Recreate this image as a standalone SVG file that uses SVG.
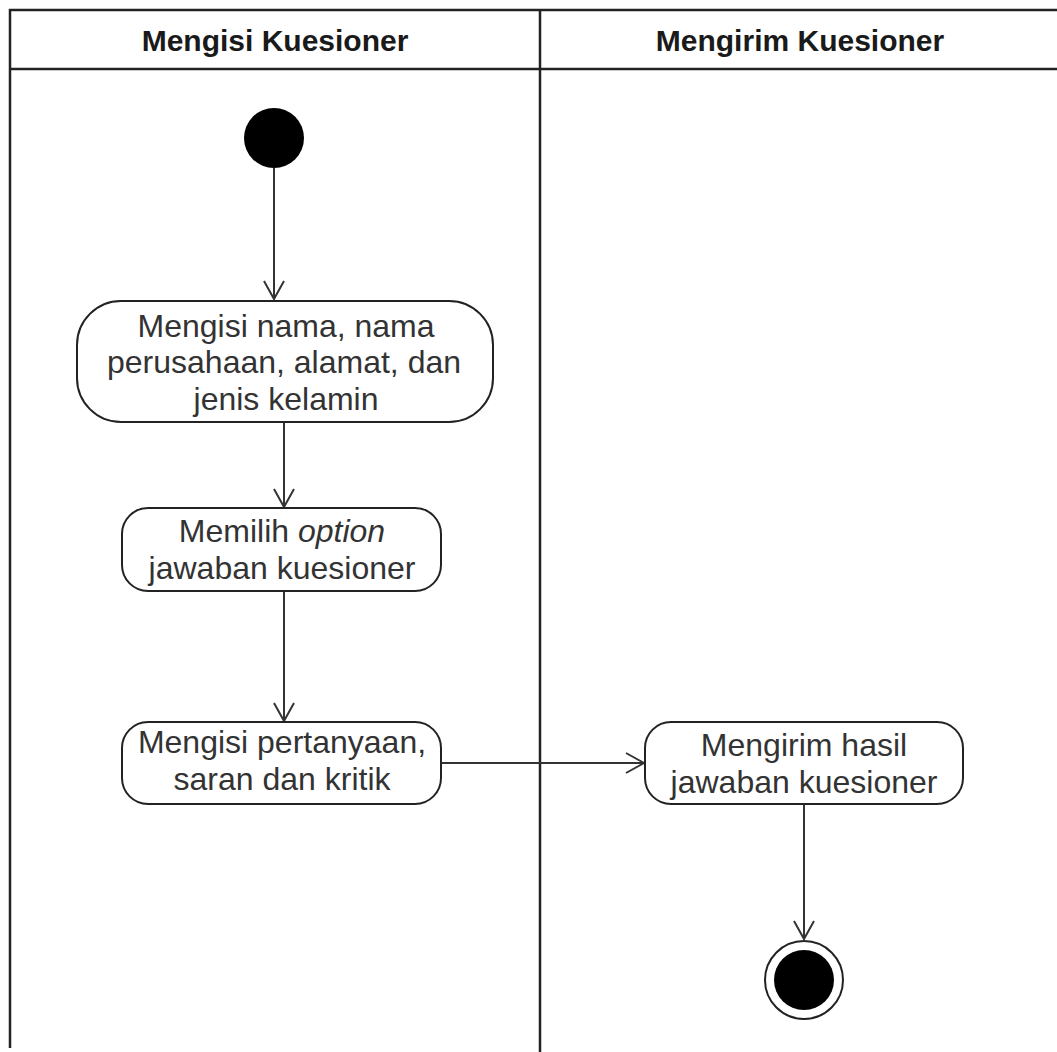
<svg xmlns="http://www.w3.org/2000/svg" width="1057" height="1052" viewBox="0 0 1057 1052">
  <style>
    .lane { fill: none; stroke: #222; stroke-width: 2.5; }
    .node { fill: #fff; stroke: #222; stroke-width: 2; }
    .head { font-family: "Liberation Sans", Arial, sans-serif; font-size: 30px; font-weight: bold; fill: #1a1a1a; text-anchor: middle; }
    .label { font-family: "Liberation Sans", Arial, sans-serif; font-size: 32px; fill: #333; text-anchor: middle; }
    .edge { fill: none; stroke: #333; stroke-width: 2; }
    .tip { fill: none; stroke: #333; stroke-width: 2; }
  </style>
  <defs>
    <marker id="open" viewBox="0 0 24 24" refX="22" refY="12" markerWidth="24" markerHeight="24" markerUnits="userSpaceOnUse" orient="auto">
      <path d="M 4 2 L 22 12 L 4 22" class="tip"/>
    </marker>
  </defs>
  <rect width="1057" height="1052" fill="#fff"/>

  <!-- swimlanes -->
  <g id="lanes">
    <path class="lane" d="M 1057 10 L 10 10 L 10 1048"/>
    <line class="lane" x1="10" y1="69" x2="1057" y2="69"/>
    <line class="lane" x1="540" y1="10" x2="540" y2="1052"/>
    <text class="head" x="275" y="51">Mengisi Kuesioner</text>
    <text class="head" x="800" y="51">Mengirim Kuesioner</text>
  </g>

  <!-- connectors -->
  <g id="connectors">
    <line class="edge" x1="274" y1="168" x2="274" y2="299" marker-end="url(#open)"/>
    <line class="edge" x1="284" y1="422" x2="284" y2="507" marker-end="url(#open)"/>
    <line class="edge" x1="284" y1="591" x2="284" y2="721" marker-end="url(#open)"/>
    <line class="edge" x1="441" y1="763" x2="644" y2="763" marker-end="url(#open)"/>
    <line class="edge" x1="804" y1="804" x2="804" y2="939" marker-end="url(#open)"/>
  </g>

  <g id="start">
    <circle cx="274" cy="138" r="30" fill="#000"/>
  </g>

  <g id="isi-identitas">
    <rect class="node" x="77" y="301" width="416" height="121" rx="44" ry="44"/>
    <text class="label" x="286" y="337">Mengisi nama, nama</text>
    <text class="label" x="284" y="373">perusahaan, alamat, dan</text>
    <text class="label" x="286" y="410">jenis kelamin</text>
  </g>

  <g id="pilih-option">
    <rect class="node" x="122" y="508" width="319" height="83" rx="26" ry="26"/>
    <text class="label" x="282" y="542">Memilih <tspan font-style="italic">option</tspan></text>
    <text class="label" x="282" y="579">jawaban kuesioner</text>
  </g>

  <g id="isi-pertanyaan">
    <rect class="node" x="122" y="722" width="319" height="82" rx="26" ry="26"/>
    <text class="label" x="282" y="753">Mengisi pertanyaan,</text>
    <text class="label" x="282" y="790">saran dan kritik</text>
  </g>

  <g id="kirim-hasil">
    <rect class="node" x="645" y="722" width="318" height="82" rx="26" ry="26"/>
    <text class="label" x="804" y="756">Mengirim hasil</text>
    <text class="label" x="804" y="793">jawaban kuesioner</text>
  </g>

  <g id="end">
    <circle cx="804" cy="980" r="39" fill="#fff" stroke="#222" stroke-width="2"/>
    <circle cx="804" cy="980" r="30" fill="#000"/>
  </g>
</svg>
